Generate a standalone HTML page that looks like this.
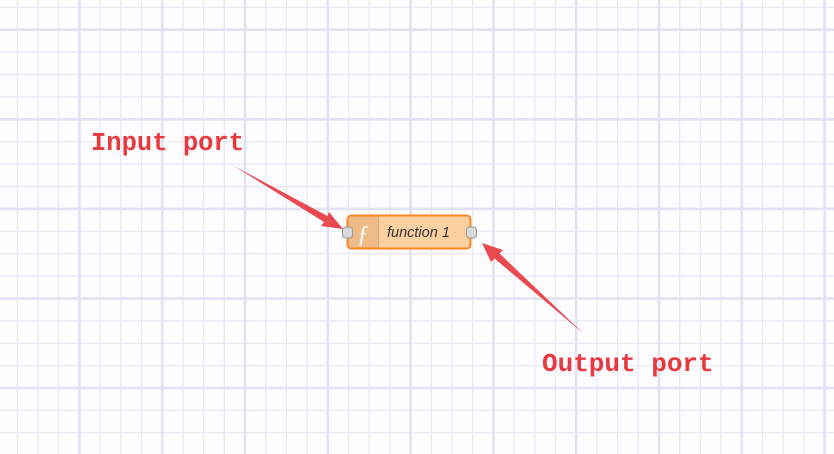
<!DOCTYPE html>
<html><head><style>
html,body{margin:0;padding:0;background:#fff;}
body{width:834px;height:454px;overflow:hidden;position:relative;}
</style></head><body>
<svg width="834" height="454" style="position:absolute;left:0;top:0">
<rect width="834" height="454" fill="#fdfdff"/>
<path fill="none" stroke="#e8e7f5" stroke-width="1.2" d="
M17.3 0V454 M38 0V454 M58.7 0V454 M100.1 0V454 M120.8 0V454 M141.5 0V454 M182.9 0V454 M203.6 0V454 M224.3 0V454 M265.7 0V454 M286.4 0V454 M307.1 0V454 M348.5 0V454 M369.2 0V454 M389.9 0V454 M431.3 0V454 M452 0V454 M472.7 0V454 M514.1 0V454 M534.8 0V454 M555.5 0V454 M596.9 0V454 M617.6 0V454 M638.3 0V454 M679.7 0V454 M700.4 0V454 M721.1 0V454 M762.5 0V454 M783.2 0V454 M803.9 0V454
M0 7.3H834 M0 52.1H834 M0 74.5H834 M0 96.9H834 M0 141.7H834 M0 164.1H834 M0 186.5H834 M0 231.3H834 M0 253.7H834 M0 276.1H834 M0 320.9H834 M0 343.3H834 M0 365.7H834 M0 410.3H834 M0 432.7H834"/>
<path fill="none" stroke="#e3e2f4" stroke-width="2.6" d="
M79.4 0V454 M162.2 0V454 M245 0V454 M327.8 0V454 M410.6 0V454 M493.4 0V454 M576.2 0V454 M659 0V454 M741.8 0V454 M824.6 0V454
M0 29.7H834 M0 119.3H834 M0 208.9H834 M0 298.5H834 M0 387.9H834"/>

<!-- node -->
<rect x="347.5" y="215.5" width="123" height="33" rx="4" fill="#fdd0a2" stroke="#f7881f" stroke-width="2"/>
<path d="M351.5 216.5 H378.5 V247.5 H351.5 a3 3 0 0 1 -3 -3 V219.5 a3 3 0 0 1 3 -3z" fill="#efbb88"/>
<line x1="378.5" y1="216.5" x2="378.5" y2="247.5" stroke="#e7a970" stroke-width="1"/>
<text x="363" y="242" font-family="Liberation Serif, serif" font-style="italic" font-size="24" fill="#fff" text-anchor="middle">ƒ</text>
<text x="387" y="237" font-family="Liberation Sans, sans-serif" font-style="italic" font-size="14.5" fill="#333">function 1</text>
<rect x="342.5" y="227" width="10" height="11" rx="3" fill="#d9d9d9" stroke="#999" stroke-width="1"/>
<rect x="466.5" y="227" width="10" height="11" rx="3" fill="#d9d9d9" stroke="#999" stroke-width="1"/>

<!-- arrows -->
<polygon points="234,166 327.5,216 329,212 343,229 321,226 324,222" fill="#e84a50"/>
<polygon points="584,334 499.5,253.5 503,250 482,243 491,262 494.5,258.5" fill="#e84a50"/>

<text x="91" y="150" font-family="Liberation Mono, monospace" font-weight="bold" font-size="25.5" fill="#e8393f">Input port</text>
<text x="542" y="371" font-family="Liberation Mono, monospace" font-weight="bold" font-size="26" fill="#e8393f">Output port</text>
</svg>
</body></html>
